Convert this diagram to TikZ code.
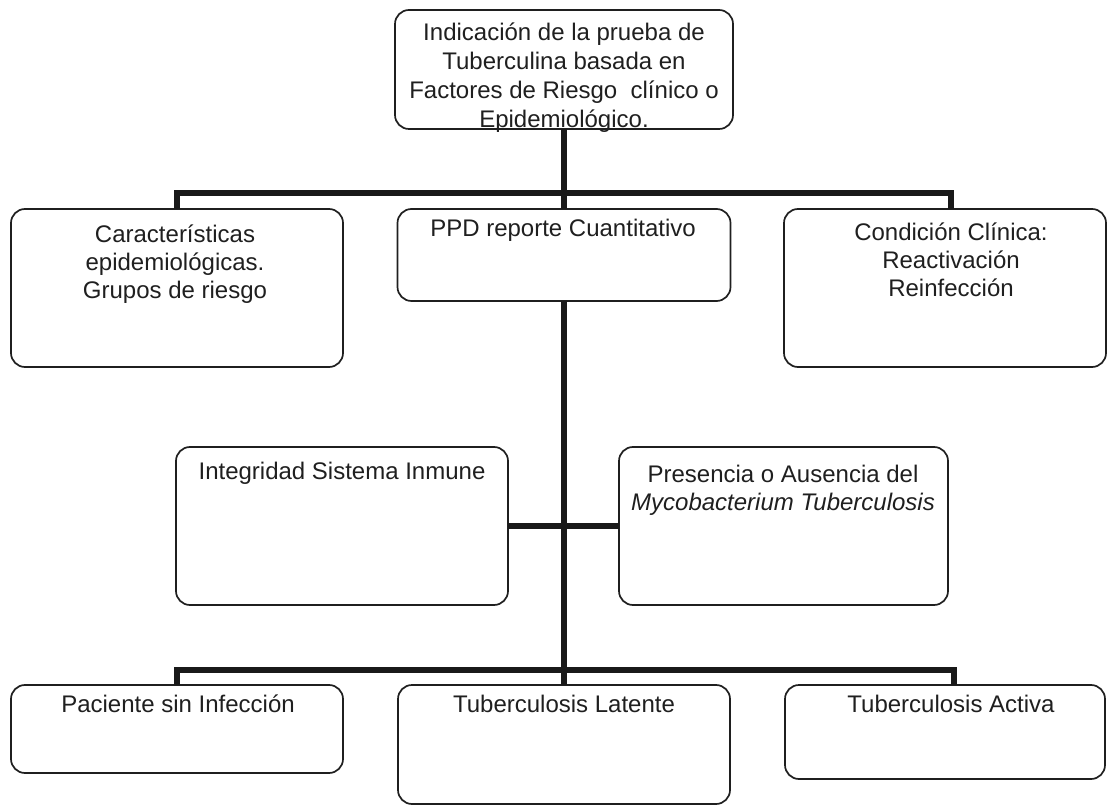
\documentclass[tikz,border=0pt]{standalone}
\usepackage{fontspec}
\setmainfont{Liberation Sans}
\usetikzlibrary{calc}
\begin{document}
\begin{tikzpicture}[x=0.5pt,y=-0.5pt,
  box/.style={draw=black!88, line width=0.85pt, rounded corners=7pt, inner sep=0pt, outer sep=0pt},
  txt/.style={font=\fontsize{12}{14}\selectfont, align=center, inner sep=0pt, anchor=north, text=black!88},
  conn/.style={line width=2.6pt, draw=black!90}]
\useasboundingbox (0,0) rectangle (1107,806);
% boxes
\node[box, minimum width=169pt, minimum height=59.5pt] (top) at (564,69.5) {};
\node[box, minimum width=166pt, minimum height=79pt] (L1) at (177,288) {};
\node[box, minimum width=166.5pt, minimum height=46pt] (M1) at (564,255) {};
\node[box, minimum width=161pt, minimum height=79pt] (R1) at (945,288) {};
\node[box, minimum width=166pt, minimum height=79pt] (L2) at (342,526) {};
\node[box, minimum width=164.5pt, minimum height=79pt] (R2) at (783.5,526) {};
\node[box, minimum width=166pt, minimum height=44pt] (BL) at (177,729) {};
\node[box, minimum width=166pt, minimum height=59.5pt] (BM) at (564,744.5) {};
\node[box, minimum width=160pt, minimum height=47pt] (BR) at (945,732) {};
% texts
\node[txt, font=\fontsize{12}{14.5}\selectfont] (ttop) at (564,22) {Indicación de la prueba de\\Tuberculina basada en\\Factores de Riesgo\ \ clínico o\\Epidemiológico.};
\node[txt] (tL1) at (175,224) {Características\\epidemiológicas.\\Grupos de riesgo};
\node[txt] (tM1) at (563,219) {PPD reporte Cuantitativo};
\node[txt] (tR1) at (951,222) {Condición Clínica:\\Reactivación\\Reinfección};
\node[txt] (tL2) at (342,462) {Integridad Sistema Inmune};
\node[txt] (tR2) at (783,465) {Presencia o Ausencia del\\\textit{Mycobacterium Tuberculosis}};
\node[txt] (tBL) at (178,694) {Paciente sin Infección};
\node[txt] (tBM) at (564,695) {Tuberculosis Latente};
\node[txt] (tBR) at (951,695) {Tuberculosis Activa};
% connectors
\coordinate (bus1) at (564,193);
\coordinate (bus3) at (564,670);
\draw[conn] (top.south) -- (M1.north);
\draw[conn] (L1.north) |- (bus1) -| ([xshift=3pt]R1.north);
\draw[conn] (M1.south) -- (BM.north);
\draw[conn] (L2.east) -- (R2.west);
\draw[conn] (BL.north) |- (bus3) -| ([xshift=4.5pt]BR.north);
\end{tikzpicture}
\end{document}
